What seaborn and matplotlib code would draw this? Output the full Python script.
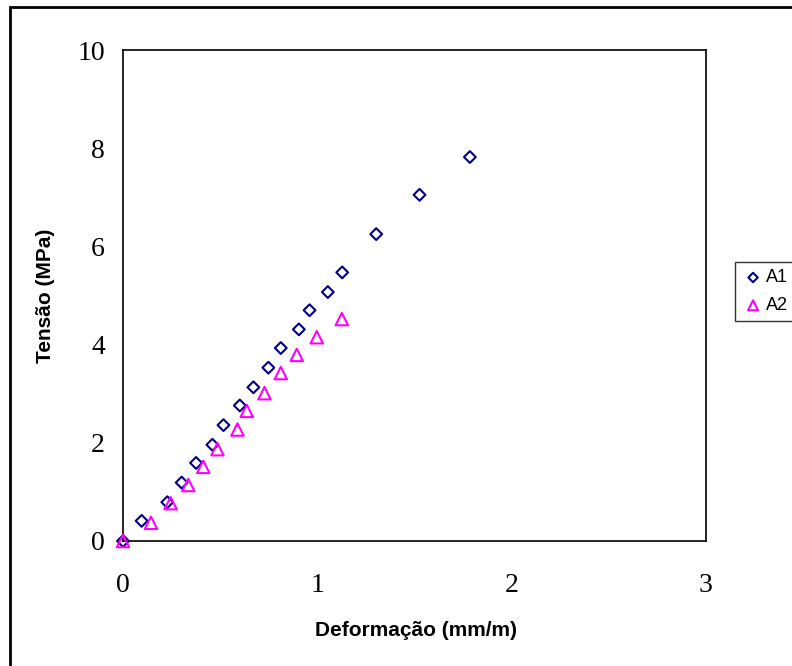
import matplotlib
matplotlib.use("Agg")
import matplotlib.pyplot as plt
import seaborn as sns
import pandas as pd
from matplotlib.patches import Rectangle

# Data
a1_x = [0.0, 0.096, 0.228, 0.302, 0.376, 0.46, 0.517, 0.601, 0.671, 0.748, 0.812, 0.905, 0.960, 1.054, 1.128, 1.303, 1.526, 1.785]
a1_y = [0.0, 0.41, 0.79, 1.19, 1.59, 1.96, 2.36, 2.76, 3.13, 3.53, 3.93, 4.31, 4.70, 5.07, 5.47, 6.25, 7.05, 7.82]
a2_x = [0.0, 0.144, 0.245, 0.336, 0.413, 0.486, 0.589, 0.637, 0.728, 0.812, 0.894, 0.997, 1.126]
a2_y = [0.0, 0.37, 0.77, 1.14, 1.51, 1.87, 2.27, 2.65, 3.01, 3.42, 3.79, 4.15, 4.52]
series = ["A1", "A2"]
x_ticks = [0, 1, 2, 3]
y_ticks = [0, 2, 4, 6, 8, 10]

sns.set_theme(style="white")
plt.rcParams['font.family'] = ['Liberation Sans', 'DejaVu Sans']
plt.rcParams['text.color'] = 'black'
plt.rcParams['axes.labelcolor'] = 'black'
plt.rcParams['xtick.color'] = 'black'
plt.rcParams['ytick.color'] = 'black'

fig = plt.figure(figsize=(7.92, 6.66), dpi=100)
ax = fig.add_axes([123/792, 1 - 541/666, (706-123)/792, (541-50)/666])

df1 = pd.DataFrame({"x": a1_x, "y": a1_y})
df2 = pd.DataFrame({"x": a2_x, "y": a2_y})

sns.scatterplot(data=df1, x="x", y="y", marker="D", s=36, facecolors="none",
                edgecolor="#000080", linewidth=1.5, label=series[0], ax=ax,
                zorder=3, clip_on=False)
sns.scatterplot(data=df2, x="x", y="y", marker="^", s=80, facecolors="none",
                edgecolor="#FF00FF", linewidth=1.5, label=series[1], ax=ax,
                zorder=3, clip_on=False)

ax.set_xlim(0, 3)
ax.set_ylim(0, 10)
ax.set_xticks(x_ticks)
ax.set_yticks(y_ticks)
ax.set_xticklabels([str(v) for v in x_ticks], family="Liberation Serif", fontsize=20, color="black")
ax.set_yticklabels([str(v) for v in y_ticks], family="Liberation Serif", fontsize=20, color="black")
ax.tick_params(axis="both", which="major", direction="out", length=6, width=1, color="black")
ax.tick_params(axis="x", pad=17)
ax.tick_params(axis="y", pad=7)

for sp in ax.spines.values():
    sp.set_visible(True)
    sp.set_color("black")
    sp.set_linewidth(1.2)

ax.set_xlabel("Deformação (mm/m)", fontsize=15, fontweight="bold", color="black")
ax.set_ylabel("Tensão (MPa)", fontsize=15, fontweight="bold", color="black")
ax.xaxis.set_label_coords(0.502, -0.163)
ax.yaxis.set_label_coords(-0.117, 0.5)
ax.grid(False)

leg = ax.legend(loc="upper left", bbox_to_anchor=(735/792, 1 - 262/666),
                bbox_transform=fig.transFigure, fontsize=13, frameon=True,
                fancybox=False, shadow=False, borderpad=0.4, handletextpad=0.1,
                handlelength=1.2, labelspacing=0.6, borderaxespad=0, markerscale=0.8)
leg.get_frame().set_edgecolor("black")
leg.get_frame().set_linewidth(1.0)
for t in leg.get_texts():
    t.set_color("black")

fig.patches.append(Rectangle((10/792, -0.1), 1.5, (1 - 7/666) + 0.1,
                             transform=fig.transFigure, fill=False,
                             edgecolor="black", linewidth=2, zorder=0))

fig.savefig("out.png", dpi=100)
